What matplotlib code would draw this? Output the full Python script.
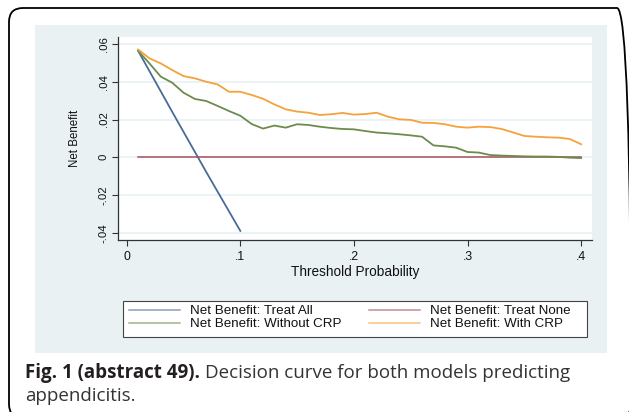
import numpy as np
import matplotlib
matplotlib.use("Agg")
import matplotlib.pyplot as plt
from matplotlib.patches import Rectangle, FancyBboxPatch
from matplotlib.lines import Line2D
from matplotlib.transforms import IdentityTransform

# threshold probabilities and net benefit
thresholds = [0.01, 0.02, 0.03, 0.04, 0.05, 0.06, 0.07, 0.08, 0.09, 0.10,
              0.11, 0.12, 0.13, 0.14, 0.15, 0.16, 0.17, 0.18, 0.19, 0.20,
              0.21, 0.22, 0.23, 0.24, 0.25, 0.26, 0.27, 0.28, 0.29, 0.30,
              0.31, 0.32, 0.33, 0.34, 0.35, 0.36, 0.37, 0.38, 0.39, 0.40]
nb_with_crp = [0.0571, 0.0524, 0.0497, 0.0462, 0.0430, 0.0418, 0.0400, 0.0386, 0.0347, 0.0347,
               0.0330, 0.0310, 0.0280, 0.0254, 0.0242, 0.0236, 0.0224, 0.0228, 0.0235, 0.0226,
               0.0229, 0.0236, 0.0215, 0.0201, 0.0198, 0.0183, 0.0182, 0.0175, 0.0162, 0.0157,
               0.0162, 0.0160, 0.0150, 0.0132, 0.0113, 0.0109, 0.0106, 0.0104, 0.0097, 0.0069]
nb_without_crp = [0.0564, 0.0497, 0.0427, 0.0395, 0.0342, 0.0309, 0.0298, 0.0272, 0.0245, 0.0220,
                  0.0176, 0.0152, 0.0168, 0.0157, 0.0175, 0.0171, 0.0162, 0.0155, 0.0150, 0.0148,
                  0.0139, 0.0131, 0.0127, 0.0122, 0.0116, 0.0109, 0.0063, 0.0058, 0.0051, 0.0028,
                  0.0025, 0.0012, 0.0009, 0.0007, 0.0005, 0.0004, 0.0004, 0.0002, -0.0002, -0.0004]
treat_all_x = [0.01, 0.04, 0.07, 0.10]
treat_all_nb = [0.0564, 0.0241, -0.0078, -0.0390]
treat_none_x = [0.01, 0.40]
treat_none_nb = [0.0, 0.0]

yticks = [-0.04, -0.02, 0, 0.02, 0.04, 0.06]
ytick_labels = ['-.04', '-.02', '0', '.02', '.04', '.06']
xticks = [0, 0.1, 0.2, 0.3, 0.4]
xtick_labels = ['0', '.1', '.2', '.3', '.4']

c_all = '#4a6b96'
c_none = '#a3505c'
c_without = '#6c8b4d'
c_with = '#f5a23c'
panel_bg = '#e9f1f3'
ink = '#111111'
plot_font = 'Liberation Sans'

W, H = 629, 412
fig = plt.figure(figsize=(W / 100, H / 100), dpi=100)

# background layer in pixel coordinates
bg = fig.add_axes([0, 0, 1, 1], zorder=0)
bg.set_xlim(0, W)
bg.set_ylim(H, 0)
bg.axis('off')
bg.add_patch(Rectangle((35, 25), 572, 328, facecolor=panel_bg, edgecolor='none'))
# legend frame
bg.add_patch(Rectangle((123, 301), 464, 36, facecolor='white', edgecolor='#444444', lw=0.8))

# rounded outer border, partly running off the canvas (pixel coords, origin bottom-left)
border = FancyBboxPatch((9, -6), 622, H - 8 + 6, boxstyle='round,pad=0,rounding_size=14',
                        facecolor='none', edgecolor='black', lw=1.3,
                        transform=IdentityTransform())
fig.add_artist(border)

ax = fig.add_axes([118 / W, 1 - 240 / H, (592 - 118) / W, (240 - 37) / H], zorder=1)
ax.set_facecolor('white')
ax.plot(treat_all_x, treat_all_nb, color=c_all, lw=1.3)
ax.plot(treat_none_x, treat_none_nb, color=c_none, lw=1.1)
ax.plot(thresholds, nb_without_crp, color=c_without, lw=1.3)
ax.plot(thresholds, nb_with_crp, color=c_with, lw=1.3)

ax.set_xlim(-0.0077, 0.4096)
ax.set_ylim(-0.0438, 0.0637)
ax.set_yticks(yticks)
ax.set_yticklabels(ytick_labels, rotation=90, va='center', family=plot_font, fontsize=8.2)
ax.set_xticks(xticks)
ax.set_xticklabels(xtick_labels, family=plot_font, fontsize=8.8)
ax.grid(axis='y', color=panel_bg, lw=1.2)
ax.set_axisbelow(True)
for s in ['top', 'right']:
    ax.spines[s].set_visible(False)
for s in ['left', 'bottom']:
    ax.spines[s].set_color('#333333')
    ax.spines[s].set_linewidth(0.9)
ax.tick_params(length=4, width=0.8, color='#333333', labelcolor=ink)
ax.tick_params(axis='x', pad=4)
ax.tick_params(axis='y', pad=2.5)

ax.set_ylabel('Net Benefit', fontsize=8.3, color=ink, family=plot_font)
ax.yaxis.set_label_coords((75 - 118) / 474, 0.5)
ax.yaxis.label.set_va('center')
ax.set_xlabel('Threshold Probability', fontsize=9.8, color=ink, family=plot_font)
ax.xaxis.set_label_coords(0.5, (240 - 272) / 203)
ax.xaxis.label.set_va('center')

handles = [Line2D([], [], color=c_all, lw=1.1, alpha=0.65),
           Line2D([], [], color=c_without, lw=1.1, alpha=0.65),
           Line2D([], [], color=c_none, lw=1.1, alpha=0.65),
           Line2D([], [], color=c_with, lw=1.1, alpha=0.65)]
labels = ['Net Benefit: Treat All', 'Net Benefit: Without CRP',
          'Net Benefit: Treat None', 'Net Benefit: With CRP']
leg = fig.legend(handles, labels, ncol=2, loc='upper left',
                 bbox_to_anchor=(129 / W, 1 - 305 / H),
                 prop={'family': plot_font, 'size': 9.6},
                 handlelength=3.85, handletextpad=0.7, columnspacing=2.1,
                 labelspacing=0.05, borderpad=0, borderaxespad=0, frameon=False)
for t in leg.get_texts():
    t.set_color(ink)

# caption: bold lead-in followed by regular text
cap_font = 'Open Sans'
t1 = fig.text(25 / W, 1 - 378 / H, 'Fig. 1 (abstract 49).', fontsize=13.5, fontweight='bold',
              family=cap_font, color='#231f20', va='baseline')
fig.canvas.draw()
bb = t1.get_window_extent()
fig.text((bb.x1 + 5) / W, 1 - 378 / H, 'Decision curve for both models predicting',
         fontsize=13.5, family=cap_font, color='#333333', va='baseline')
fig.text(25 / W, 1 - 401 / H, 'appendicitis.', fontsize=13.5, family=cap_font,
         color='#333333', va='baseline')

fig.savefig('out.png', dpi=100)
